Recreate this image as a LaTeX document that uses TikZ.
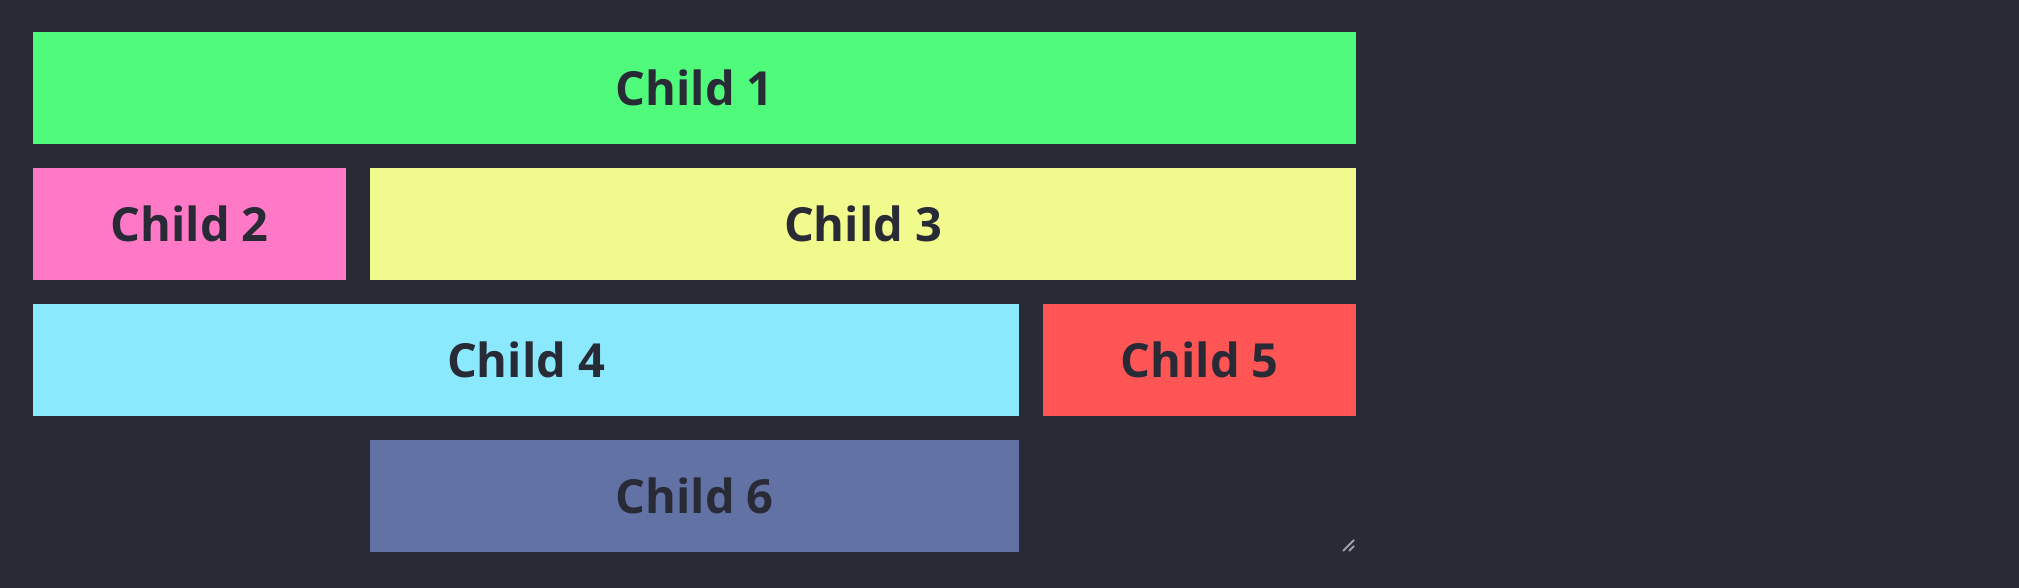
\documentclass[tikz,border=0pt]{standalone}
\usepackage{fontspec}
\usepackage{tikz}
\usepackage{color}
\newfontfamily\childfont{Open Sans}

\definecolor{bgdark}{HTML}{282A36}
\definecolor{drgreen}{HTML}{50FA7B}
\definecolor{drpink}{HTML}{FF79C6}
\definecolor{dryellow}{HTML}{F1FA8C}
\definecolor{drcyan}{HTML}{8BE9FD}
\definecolor{drred}{HTML}{FF5555}
\definecolor{drcomment}{HTML}{6272A4}
\definecolor{gripgray}{HTML}{A0A0A8}

\begin{document}
\begin{tikzpicture}[x=1pt,y=-1pt,
  childbox/.style={inner sep=0pt, anchor=north west, minimum height=112pt,
    text=bgdark, font=\childfont\bfseries\fontsize{47}{56}\selectfont}]

\fill[bgdark] (0,0) rectangle (2019,588);

\node[childbox, fill=drgreen, minimum width=1323pt] (child1) at (33,32) {Child 1};

\node[childbox, fill=drpink, minimum width=313pt] (child2) at (33,168) {Child 2};
\node[childbox, fill=dryellow, minimum width=986pt] (child3) at (370,168) {Child 3};

\node[childbox, fill=drcyan, minimum width=986pt] (child4) at (33,304) {Child 4};
\node[childbox, fill=drred, minimum width=313pt] (child5) at (1043,304) {Child 5};

\node[childbox, fill=drcomment, minimum width=649pt] (child6) at (370,440) {Child 6};

% resize grip
\draw[gripgray, line width=2pt] (1343,551) -- (1354,540);
\draw[gripgray, line width=2pt] (1349,551) -- (1354,546);

\end{tikzpicture}
\end{document}
